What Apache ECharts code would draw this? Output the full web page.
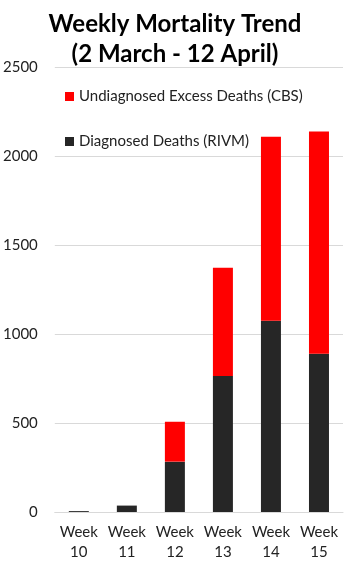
<!DOCTYPE html>
<html>
<head>
<meta charset="utf-8">
<script src="https://cdn.jsdelivr.net/npm/echarts@6/dist/echarts.min.js"></script>
<style>html,body{margin:0;padding:0;background:#fff;}#c{width:350px;height:571px;}</style>
</head>
<body>
<div id="c"></div>
<script>
const categories = ['Week\n10', 'Week\n11', 'Week\n12', 'Week\n13', 'Week\n14', 'Week\n15'];
const diagnosed = [5, 36, 283, 764, 1075, 889];
const undiagnosed = [0, 0, 224, 608, 1033, 1248];
const yTicks = [0, 500, 1000, 1500, 2000, 2500];

const chart = echarts.init(document.getElementById('c'));
const font = 'Lato, "Noto Sans", sans-serif';
chart.setOption({
  animation: false,
  backgroundColor: '#fff',
  title: {
    text: 'Weekly Mortality Trend\n(2 March - 12 April)',
    left: 'center',
    top: 4,
    textStyle: { fontFamily: font, fontWeight: 'bold', fontSize: 24, lineHeight: 30, color: '#000' }
  },
  legend: {
    orient: 'vertical',
    left: 60,
    top: 84,
    itemWidth: 9,
    itemHeight: 9,
    itemGap: 30,
    icon: 'rect',
    data: ['Undiagnosed Excess Deaths (CBS)', 'Diagnosed Deaths (RIVM)'],
    textStyle: { fontFamily: font, fontSize: 15, color: '#222' }
  },
  grid: { left: 52, right: 7, top: 67, bottom: 59 },
  xAxis: {
    type: 'category',
    data: categories,
    axisLine: { lineStyle: { color: '#d9d9d9' } },
    axisTick: { show: false },
    axisLabel: { fontFamily: font, fontSize: 15, color: '#222', lineHeight: 20, margin: 10, interval: 0 }
  },
  yAxis: {
    type: 'value',
    min: yTicks[0],
    max: yTicks[yTicks.length - 1],
    interval: 500,
    axisLine: { show: false },
    axisTick: { show: false },
    splitLine: { lineStyle: { color: '#d9d9d9' } },
    axisLabel: { fontFamily: font, fontSize: 15, color: '#222', margin: 17, formatter: v => String(v) }
  },
  series: [
    { name: 'Diagnosed Deaths (RIVM)', type: 'bar', stack: 'a', data: diagnosed, barWidth: 20, itemStyle: { color: '#262626' } },
    { name: 'Undiagnosed Excess Deaths (CBS)', type: 'bar', stack: 'a', data: undiagnosed, barWidth: 20, itemStyle: { color: '#ff0000' } }
  ]
});
</script>
</body>
</html>
